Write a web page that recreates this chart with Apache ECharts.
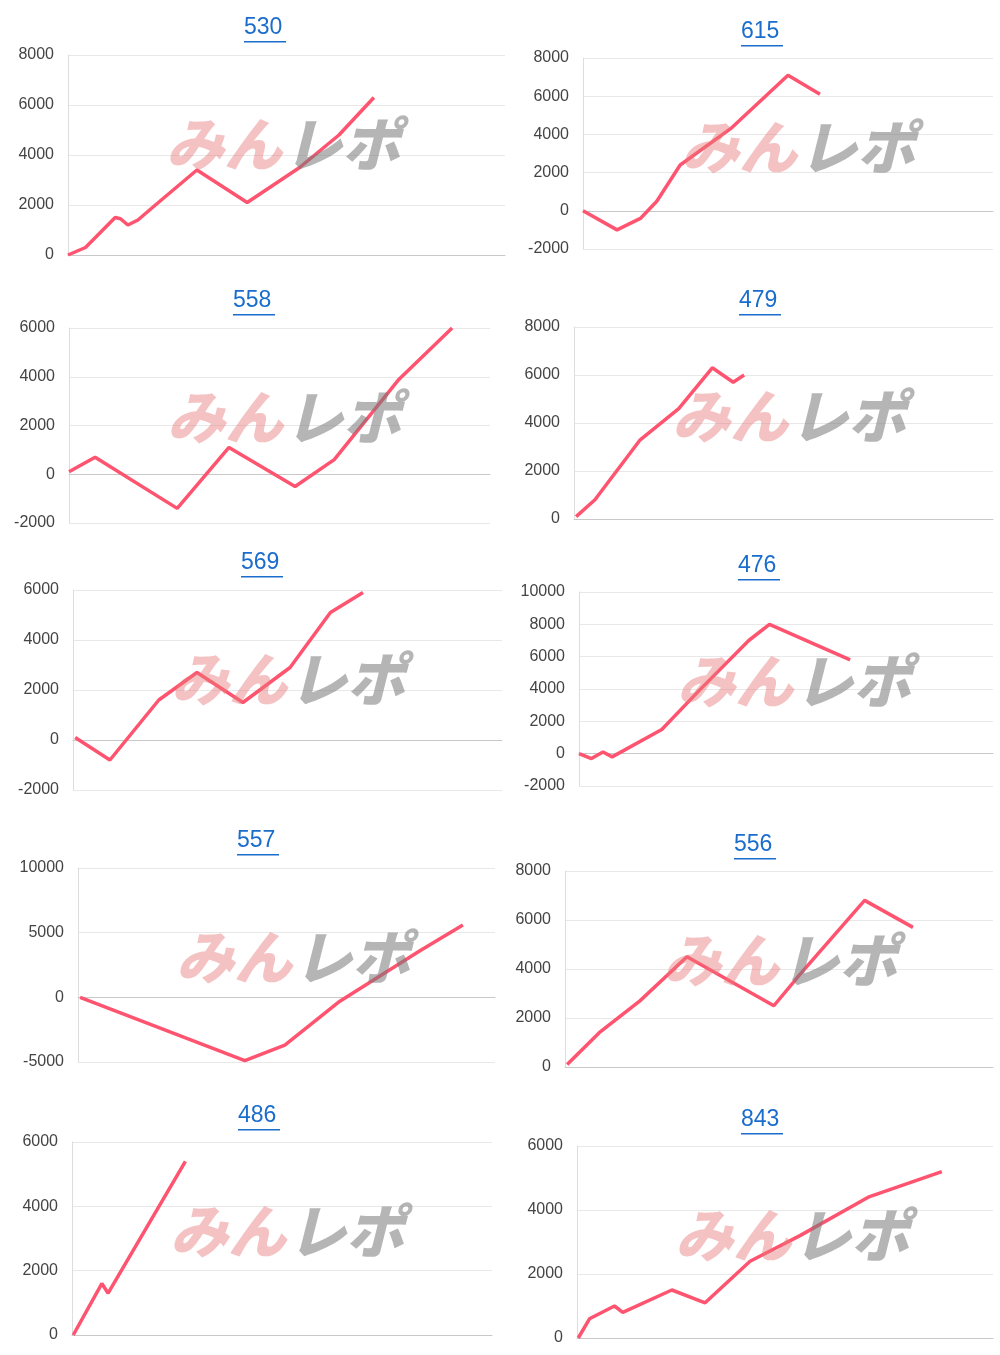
<!DOCTYPE html>
<html><head><meta charset="utf-8">
<script src="https://cdn.jsdelivr.net/npm/echarts@6/dist/echarts.min.js"></script>
<style>body{margin:0;background:#fff}#c{width:1000px;height:1355px}</style>
</head><body><div id="c"></div>
<script>
// chart titles
const titles = ['530','615','558','479','569','476','557','556','486','843'];
// y-axis ranges [min,max,interval]
const yRanges = [[0,8000,2000],[-2000,8000,2000],[-2000,6000,2000],[0,8000,2000],[-2000,6000,2000],
                 [-2000,10000,2000],[-5000,10000,5000],[0,8000,2000],[0,6000,2000],[0,6000,2000]];
// series: [progress % of x axis, value]
const s530 = [[0,0],[4,300],[10.8,1500],[12,1450],[13.7,1200],[16,1400],[20,2000],[29.5,3400],[41,2100],[53,3500],[62,4800],[70,6300]];
const s615 = [[0,0],[8.3,-1000],[14,-400],[18,500],[23.7,2400],[36,4300],[50,7100],[57.8,6100]];
const s558 = [[0,100],[6.2,700],[25.7,-1400],[38,1100],[53.7,-500],[63,600],[78.4,3900],[91,6000]];
const s479 = [[0.5,100],[5,800],[15.8,3300],[25,4600],[33,6300],[38,5700],[40.6,6000]];
const s569 = [[0.5,100],[8.6,-800],[20,1600],[28.9,2700],[39.6,1500],[50.6,2900],[60,5100],[67.6,5900]];
const s476 = [[0,0],[3,-300],[5.8,100],[8,-200],[20,1500],[29,3900],[41,7000],[46,8000],[65.5,5800]];
const s557 = [[0.5,0],[40,-4900],[49.6,-3700],[62.8,-300],[82,3600],[92.3,5600]];
const s556 = [[0.5,100],[8,1400],[17.5,2700],[28.5,4500],[48.8,2500],[55,3800],[70,6800],[81.3,5700]];
const s486 = [[0.3,0],[7.1,1600],[8.6,1300],[27,5400]];
const s843 = [[0.3,0],[3,600],[9,1000],[11,800],[22.8,1500],[30.8,1100],[41.6,2400],[53.6,3200],[70,4400],[87.7,5200]];
const allSeries = [s530,s615,s558,s479,s569,s476,s557,s556,s486,s843];

// layout: [plotLeft, plotRight, plotTop, plotBottom, titleX, titleY]
const layout = [
 [68,505,55,255,265,28],[583,993,58,249,762,32],
 [69,490,328,523,254,301],[574,993,327,519,760,301],
 [73,502,590,790,262,563],[579,993,592,786,759,566],
 [78,495,868,1062,258,841],[565,993,871,1067,755,845],
 [72,492,1142,1335,259,1116],[577,993,1146,1338,762,1120]];

const grid=[],xAxis=[],yAxis=[],series=[],graphic=[];
layout.forEach((L,i)=>{
  grid.push({left:L[0],top:L[2],width:L[1]-L[0],height:L[3]-L[2]});
  xAxis.push({gridIndex:i,type:'value',min:0,max:100,show:true,axisLabel:{show:false},axisTick:{show:false},
    splitLine:{show:false},axisLine:{onZero:true,lineStyle:{color:'#c8c8c8'}}});
  const r=yRanges[i];
  yAxis.push({gridIndex:i,type:'value',min:r[0],max:r[1],interval:r[2],
    axisLabel:{color:'#444',fontSize:16,fontFamily:'Helvetica, Arial, sans-serif',margin:14,formatter:v=>String(v)},
    axisLine:{show:true,lineStyle:{color:'#ddd'}},axisTick:{show:false},
    splitLine:{lineStyle:{color:'#e8e8e8'}}});
  series.push({type:'line',xAxisIndex:i,yAxisIndex:i,data:allSeries[i],showSymbol:false,
    lineStyle:{color:'#ff5470',width:3.5},z:1});
  graphic.push({type:'text',left:L[4]-21,top:L[5]-12,style:{text:titles[i],fill:'#1a6dcc',font:'23px Helvetica, Arial, sans-serif'},z:10});
  graphic.push({type:'rect',shape:{x:L[4]-21,y:L[5]+13,width:42,height:1.6},style:{fill:'#1a6dcc'},z:10});
  const wx=L[0]+98, wy=L[2]+60;
  graphic.push({type:'text',x:wx,y:wy,style:{text:'みん',fill:'rgba(230,120,120,0.45)',font:'italic 900 58px "Noto Sans CJK JP"'},z:5});
  graphic.push({type:'text',x:wx+118,y:wy,style:{text:'レポ',fill:'rgba(120,120,120,0.55)',font:'italic 900 58px "Noto Sans CJK JP"'},z:5});
});
const chart=echarts.init(document.getElementById('c'));
chart.setOption({animation:false,grid,xAxis,yAxis,series,graphic});
</script></body></html>
